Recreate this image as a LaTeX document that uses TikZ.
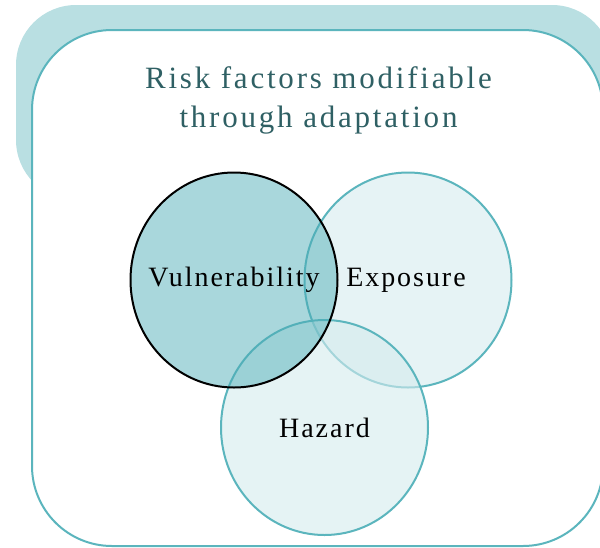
\documentclass[tikz,border=0pt]{standalone}
\usepackage{fontspec}
\newfontfamily\vennfont{Liberation Serif}[LetterSpace=7]
\newfontfamily\headfont{Liberation Serif}[LetterSpace=9]
\usetikzlibrary{shapes.geometric}

\definecolor{tealback}{HTML}{B9DFE2}
\definecolor{tealline}{HTML}{5BB5BD}
\definecolor{tealpale}{HTML}{E6F3F5}
\definecolor{tealhaz}{HTML}{D5EBEE}
\definecolor{tealvuln}{HTML}{4CACB6}
\definecolor{titleteal}{HTML}{2F6064}

\tikzset{
  venn/.style={ellipse, minimum width=207pt, minimum height=215pt, inner sep=0pt,
    line width=2pt},
  vennlabel/.style={inner sep=0pt, text opacity=1, fill opacity=0, text=black,
    font=\vennfont\fontsize{28}{32}\selectfont},
  heading/.style={align=center, inner sep=0pt, text=titleteal,
    font=\headfont\fontsize{31}{39}\selectfont}
}

\begin{document}
\begin{tikzpicture}[x=1pt,y=-1pt]
  \useasboundingbox (0,0) rectangle (600,547);
  \clip (0,0) rectangle (600,547);

  % back and front panels
  \fill[tealback, rounded corners=60pt] (16,5) rectangle (612,200);
  \draw[tealline, fill=white, line width=2pt, rounded corners=80pt] (32,30) rectangle (603,546);

  \node[heading] (title) at (318.5,100.5) {Risk factors modifiable\\through adaptation};

  % the three circles
  \node[venn, draw=tealline, fill=tealpale] (expo) at (408,280) {};
  \node[venn, draw=tealline, fill=tealhaz, fill opacity=.6] (haz) at (324.5,427.5) {};
  \node[venn, draw=black, fill=tealvuln, fill opacity=.48] (vuln) at (234,280) {};

  \node[vennlabel] (vulntext) at (vuln.center) {Vulnerability};
  \node[vennlabel] (expotext) at ([xshift=-2pt]expo.center) {Exposure};
  \node[vennlabel] (haztext) at (haz.center) {Hazard};
\end{tikzpicture}
\end{document}
